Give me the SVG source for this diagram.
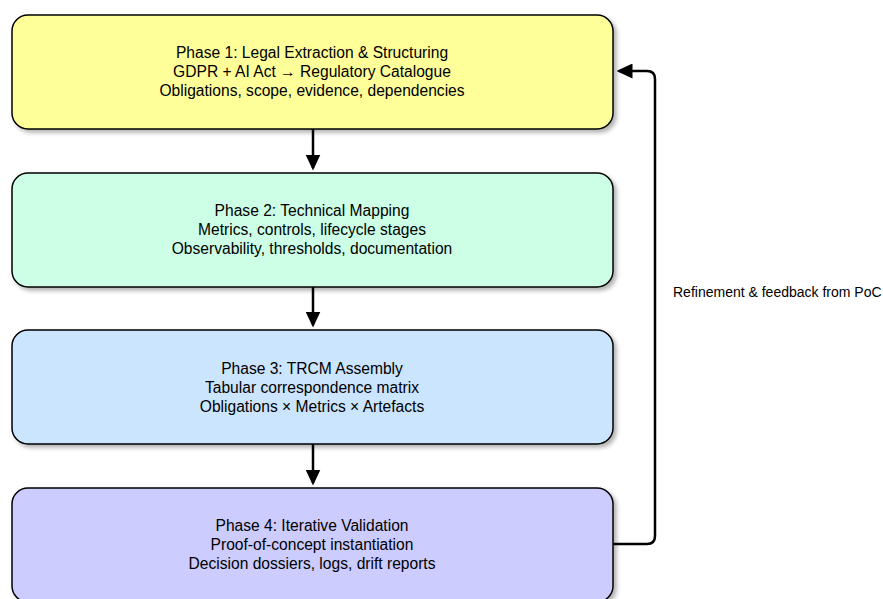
<svg xmlns="http://www.w3.org/2000/svg" width="883" height="599" viewBox="0 0 883 599">
<style>
.box{stroke:#000;stroke-width:1.5}
.t{font-family:"Liberation Sans",Arial,sans-serif;font-size:15.6px;fill:#000;text-anchor:middle}
.l{font-family:"Liberation Sans",Arial,sans-serif;font-size:14px;fill:#000}
.c{fill:none;stroke:#000;stroke-width:2.5}
</style>
<defs>
<filter id="sh" x="-5%" y="-10%" width="115%" height="130%">
<feDropShadow dx="3" dy="3" stdDeviation="2" flood-color="#000" flood-opacity="0.3"/>
</filter>
<marker id="ah" markerWidth="6.4" markerHeight="6" refX="5.4" refY="3" orient="auto" markerUnits="strokeWidth">
<path d="M0,0 L6.4,3 L0,6 Z" fill="#000"/>
</marker>
</defs>
<g id="p1">
<rect class="box" x="12" y="15" width="601" height="114" rx="16" fill="#ffff99" filter="url(#sh)"/>
<text class="t" x="312" y="58">Phase 1: Legal Extraction &amp; Structuring</text>
<text class="t" x="312" y="77">GDPR + AI Act → Regulatory Catalogue</text>
<text class="t" x="312" y="96">Obligations, scope, evidence, dependencies</text>
</g>
<g id="p2">
<rect class="box" x="12" y="173" width="601" height="114" rx="16" fill="#ccffe6" filter="url(#sh)"/>
<text class="t" x="312" y="216">Phase 2: Technical Mapping</text>
<text class="t" x="312" y="235">Metrics, controls, lifecycle stages</text>
<text class="t" x="312" y="254">Observability, thresholds, documentation</text>
</g>
<g id="p3">
<rect class="box" x="12" y="330" width="601" height="114" rx="16" fill="#cce5ff" filter="url(#sh)"/>
<text class="t" x="312" y="374">Phase 3: TRCM Assembly</text>
<text class="t" x="312" y="393">Tabular correspondence matrix</text>
<text class="t" x="312" y="412">Obligations × Metrics × Artefacts</text>
</g>
<g id="p4">
<rect class="box" x="12" y="488" width="601" height="114" rx="16" fill="#ccccff" filter="url(#sh)"/>
<text class="t" x="312" y="531">Phase 4: Iterative Validation</text>
<text class="t" x="312" y="550">Proof-of-concept instantiation</text>
<text class="t" x="312" y="569">Decision dossiers, logs, drift reports</text>
</g>
<g id="connectors">
<line class="c" x1="313" y1="129" x2="313" y2="168" marker-end="url(#ah)"/>
<line class="c" x1="313" y1="287" x2="313" y2="325" marker-end="url(#ah)"/>
<line class="c" x1="313" y1="444" x2="313" y2="483" marker-end="url(#ah)"/>
<path class="c" d="M613,544 H647 Q655,544 655,536 V79 Q655,71 647,71 H619" marker-end="url(#ah)"/>
<text class="l" x="673" y="297">Refinement &amp; feedback from PoC</text>
</g>
</svg>
